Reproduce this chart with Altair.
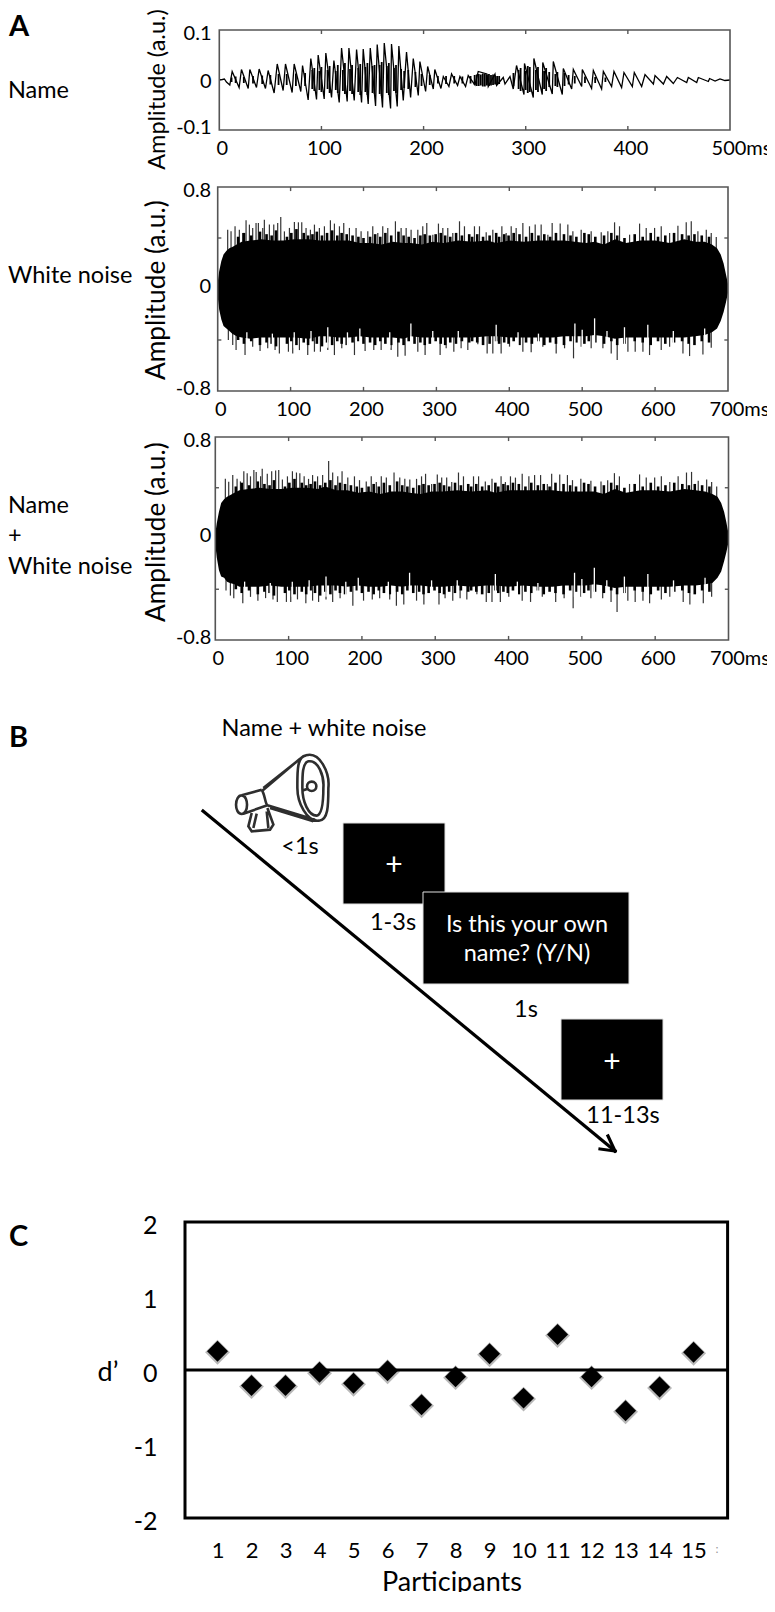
import altair as alt
import pandas as pd

FONT = "Lato"

# ---------- Panel A, "Name" waveform: peaks
name_t = [0,3,5,7,10.3,12.6,19.4,21.7,28.3,29.9,36.4,39,45.2,47.8,53.7,56.7,62.5,64.8,71.3,73.3,79.8,81.5,87,89.6,95.2,96.8,102.7,104.3,109.9,112.2,
117.4,119.7,125.2,126.9,132.1,134.4,139.3,140.9,145.8,147.8,153,154.6,159.8,161.5,167.7,168.6,174.2,175.8,180.1,183.3,187.3,189.9,194.8,196.4,202,204,209.5,
211,217,219.3,224.8,227.4,233.3,235.6,241.1,243.7,250.3,253.5,262,263.3,269.9,271.5,278,279.7,284.6,287.8,291,298.3,298.8,307.4,308,316.2,316.7,326,327,335.8,336.8,
345,346.6,354.8,355.4,364.5,366.2,374.3,376,384.1,386.4,393.9,396.2,404.4,406.3,413.5,416.8,425,426.6,434.8,438,444.5,448.5,457.6,459.2,467.4,469,478.8,480,485.4,490.2,495,500]
name_v = [0,.001,.002,-.004,-.010,.017,-.015,.021,-.017,.021,-.015,.022,-.017,.019,-.026,.032,-.021,.032,-.025,.032,-.023,.029,-.040,.043,-.039,.050,-.038,.054,-.035,.039,
-.045,.064,-.043,.064,-.041,.061,-.045,.062,-.048,.064,-.052,.071,-.055,.074,-.057,.072,-.053,.068,-.041,.056,-.035,.043,-.031,.037,-.023,.027,-.018,
.021,-.017,.007,-.013,.012,-.011,.007,-.013,.009,-.010,.017,.012,-.013,.012,-.011,.005,-.008,.007,-.018,.029,-.029,.033,-.035,.043,-.029,.035,-.028,.037,-.029,.023,
-.018,.021,-.013,.021,-.017,.019,-.018,.017,-.013,.017,-.015,.015,-.013,.015,-.013,.011,-.008,.009,-.008,.007,-.007,.005,-.005,.005,-.005,.005,-.003,.003,-.002,.002,-.001,0]
name_bar_t = [12,16,24,33,42,50,58,66,75,84,
              91,93,98,100,106,108,114,116,121,123,128,130,136,138,143,145,150,152,157,159,164,166,171,173,178,181,185,192,198,206,
              214,222,230,238,246,
              250,252,254,256,258,260,262,264,266,268,270,272,274,
              288,293,295,300,302,304,310,312,318,320,323,329,331,338,342,348,358,368,378]
name_bar_hi = [.005,.007,.006,.008,.009,.010,.012,.012,.013,.014,
               .020,.024,.018,.026,.020,.028,.018,.030,.020,.034,.022,.030,.024,.032,.026,.034,.028,.030,.030,.036,.028,.034,.024,.030,.022,.018,.020,.016,.012,.010,
               .008,.008,.008,.007,.008,
               .010,.011,.012,.011,.013,.012,.011,.012,.010,.011,.009,.008,.008,
               .014,.020,.024,.018,.028,.026,.020,.026,.018,.024,.016,.012,.016,.014,.010,.008,.007,.006,.005]
name_bar_lo = [-.004,-.006,-.006,-.007,-.008,-.009,-.010,-.010,-.012,-.012,
               -.018,-.022,-.020,-.024,-.018,-.026,-.020,-.026,-.022,-.028,-.022,-.028,-.024,-.030,-.024,-.030,-.026,-.028,-.028,-.032,-.026,-.030,-.022,-.026,-.020,-.016,-.018,-.014,-.012,-.010,
               -.007,-.008,-.007,-.007,-.007,
               -.010,-.012,-.012,-.011,-.013,-.013,-.011,-.012,-.011,-.010,-.009,-.008,-.008,
               -.012,-.018,-.022,-.020,-.026,-.024,-.020,-.024,-.018,-.022,-.014,-.012,-.014,-.012,-.009,-.007,-.006,-.006,-.004]

# ---------- Panels A, noise waveforms: envelopes and spikes
core_t = [0,2,5,8,12,16,20,26,33,45,60,75,90,105,125,140,150,165,180,195,210,225,240,255,265,280,295,310,330,350,370,382,400,420,440,460,475,490,505,517,530,545,560,580,600,620,640,655,668,678,685,690,694,697,700]
noise_hi = [.05,.14,.22,.27,.30,.32,.33,.35,.37,.38,.39,.38,.38,.39,.39,.38,.38,.38,.38,.36,.36,.35,.37,.36,.36,.35,.37,.36,.38,.37,.38,.36,.38,.37,.38,.38,.38,.37,.36,.37,.35,.39,.36,.38,.38,.36,.39,.37,.37,.35,.32,.27,.20,.12,.04]
noise_lo = [-.06,-.16,-.24,-.29,-.31,-.33,-.35,-.37,-.38,-.39,-.38,-.38,-.38,-.38,-.39,-.37,-.37,-.38,-.38,-.37,-.38,-.38,-.38,-.39,-.37,-.38,-.38,-.38,-.38,-.38,-.37,-.37,-.38,-.38,-.38,-.38,-.37,-.37,-.37,-.36,-.37,-.39,-.38,-.38,-.38,-.38,-.38,-.37,-.36,-.34,-.31,-.25,-.18,-.11,-.03]
mix_hi = [.04,.12,.21,.28,.31,.33,.34,.36,.38,.39,.40,.39,.39,.40,.40,.39,.41,.38,.38,.36,.37,.35,.37,.37,.36,.35,.37,.37,.38,.37,.38,.36,.38,.38,.38,.38,.37,.37,.37,.37,.35,.39,.36,.38,.38,.37,.39,.38,.37,.35,.33,.28,.21,.13,.04]
mix_lo = [-.05,-.15,-.25,-.30,-.31,-.34,-.35,-.36,-.38,-.38,-.38,-.37,-.38,-.38,-.38,-.37,-.37,-.37,-.38,-.37,-.38,-.38,-.37,-.38,-.37,-.37,-.38,-.38,-.37,-.38,-.37,-.37,-.38,-.37,-.38,-.38,-.37,-.37,-.37,-.36,-.37,-.39,-.38,-.38,-.38,-.38,-.37,-.37,-.36,-.35,-.31,-.26,-.18,-.11,-.03]

top_t = [13.7,18.3,23.8,29.7,34.3,38.9,43.5,48,52.6,55.8,61.8,64,70.9,76.9,82.3,86.5,91.5,98.4,105.2,110.7,115.3,121.2,127.2,132.7,139.5,146.4,154.6,160.1,167,172.9,180.7,189.8,196.7,205.9,212.7,219.6,226.4,233.3,243.8,251.6,258.5,265.3,274.5,281.3,286.8,295.1,302.8,308.8,315.6,322.5,331.7,338.5,352.2,359.1,368.3,377.4,389.8,395.7,402.6,409.4,418.6,427.7,435.5,443.7,452.9,458.8,469.8,480.3,487.2,498.6,512.3,526.1,535.2,544.4,551.2,565,578.7,587.8,599.3,608.4,619.9,631.3,642.7,649.6,658.7,670.2,677,683.9]
noise_top = [.465,.452,.492,.465,.439,.539,.505,.479,.518,.518,.479,.544,.505,.505,.518,.565,.452,.479,.526,.523,.523,.479,.465,.505,.479,.492,.539,.513,.492,.518,.479,.479,.452,.452,.492,.439,.492,.479,.531,.479,.479,.465,.465,.492,.518,.426,.513,.479,.479,.439,.531,.492,.492,.492,.445,.465,.492,.439,.492,.479,.518,.492,.505,.505,.426,.518,.513,.505,.452,.465,.452,.445,.452,.523,.492,.426,.513,.479,.479,.492,.439,.497,.523,.531,.452,.465,.439,.408]
mix_top = [.470,.448,.500,.470,.450,.530,.515,.490,.540,.525,.490,.550,.510,.530,.535,.540,.465,.490,.530,.520,.515,.490,.470,.500,.490,.500,.610,.520,.490,.530,.480,.490,.460,.450,.490,.445,.490,.480,.520,.480,.470,.465,.470,.490,.510,.430,.505,.480,.480,.445,.520,.490,.490,.490,.450,.470,.490,.445,.490,.480,.510,.490,.500,.500,.430,.510,.505,.500,.460,.470,.455,.450,.460,.515,.490,.430,.505,.480,.480,.490,.445,.490,.520,.525,.455,.465,.445,.410]
bot_t = [14.6,20.6,25.2,37.5,48,58.1,68.6,78.7,84.6,97,102.9,112.1,123.5,132.7,140.9,151,160.1,170.2,187.6,202.2,214.1,224.2,237.9,247,257.1,274.5,284.5,305.1,313.4,323.9,333.9,343.1,356.8,369.6,377.4,388.8,400.3,418.6,430,446,464.3,475.8,488.1,498.6,512.3,528.4,539.8,548,562.7,572.7,583.3,592.4,608.4,619.9,638.2,647.3,665.6,677]
noise_bot = [-.40,-.44,-.479,-.518,-.452,-.486,-.465,-.479,-.505,-.492,-.505,-.479,-.518,-.492,-.492,-.479,-.518,-.465,-.518,-.486,-.479,-.479,-.479,-.531,-.523,-.492,-.518,-.518,-.465,-.492,-.465,-.479,-.434,-.505,-.505,-.505,-.452,-.492,-.497,-.452,-.505,-.465,-.544,-.452,-.465,-.465,-.505,-.557,-.492,-.492,-.492,-.518,-.479,-.452,-.505,-.526,-.513,-.46]
mix_bot = [-.41,-.45,-.47,-.51,-.46,-.49,-.47,-.48,-.50,-.50,-.50,-.48,-.51,-.49,-.50,-.48,-.50,-.47,-.53,-.49,-.48,-.47,-.48,-.53,-.52,-.49,-.52,-.52,-.47,-.49,-.47,-.48,-.44,-.50,-.50,-.50,-.46,-.49,-.50,-.46,-.50,-.47,-.55,-.46,-.47,-.47,-.50,-.58,-.49,-.50,-.49,-.51,-.48,-.46,-.50,-.52,-.51,-.46]

# short spikes that roughen the edge of the black body
rough_t = [28,36,46,58,67,74,80,95,101,108,118,124,130,136,143,150,157,164,170,177,185,193,200,209,216,223,230,238,248,255,262,270,278,284,291,299,306,312,319,327,335,345,349,356,364,373,382,386,393,399,406,414,423,431,440,448,456,464,475,484,492,503,509,518,530,540,548,558,572,583,594,604,614,626,637,646,654,664,674]
rough_hi = [.41,.44,.42,.45,.43,.42,.46,.41,.44,.47,.44,.42,.43,.45,.42,.44,.46,.42,.44,.43,.42,.41,.40,.41,.43,.41,.44,.42,.45,.42,.41,.40,.42,.43,.42,.43,.44,.42,.41,.44,.42,.43,.41,.43,.41,.42,.44,.41,.43,.42,.44,.43,.41,.44,.42,.43,.41,.44,.43,.42,.41,.44,.43,.41,.42,.44,.42,.40,.43,.41,.44,.41,.42,.44,.43,.42,.43,.42,.41]
rough_lo = [-.40,-.43,-.41,-.44,-.42,-.43,-.45,-.43,-.41,-.44,-.42,-.44,-.41,-.43,-.45,-.42,-.44,-.41,-.43,-.44,-.42,-.41,-.43,-.42,-.44,-.41,-.43,-.44,-.42,-.44,-.41,-.43,-.42,-.44,-.43,-.41,-.43,-.44,-.42,-.43,-.41,-.42,-.41,-.42,-.44,-.43,-.41,-.43,-.42,-.43,-.41,-.44,-.42,-.43,-.41,-.44,-.42,-.43,-.44,-.41,-.42,-.43,-.41,-.42,-.43,-.41,-.44,-.43,-.41,-.42,-.44,-.41,-.43,-.42,-.41,-.43,-.44,-.41,-.42]
# white gaps that reach into the body from below
notch_t = [40,75,105,128,151,178,195,236,265,295,330,382,412,440,490,500,517,534,558,590,625,668]
notch_v = [-.34,-.35,-.34,-.33,-.30,-.34,-.31,-.34,-.27,-.33,-.33,-.28,-.34,-.35,-.27,-.32,-.23,-.33,-.30,-.28,-.33,-.31]

# ---------- Panel C
participants = list(range(1, 16))
dprime = [.253,-.21,-.21,-.03,-.18,-.01,-.47,-.09,.22,-.38,.48,-.09,-.55,-.23,.24]

# ---------- Panel B schematic
screens = {"x": [343, 561, 423], "x2": [445, 663, 629], "y": [825, 1021, 894], "y2": [906, 1102, 986]}
dark_text = ["Name + white noise", "<1s", "1-3s", "1s", "11-13s"]
dark_x = [324, 300, 393, 526, 623]
dark_y = [731, 849, 925, 1012, 1118]
white_text = ["Is this your own", "name? (Y/N)"]
white_x = [527, 527]
white_y = [927, 956]
plus_x = [394, 612]
plus_y = [868, 1065]
arrow = {"x": [203, 600, 608], "y": [813, 1151, 1138], "x2": [615, 615, 615], "y2": [1153, 1153, 1153]}
MEGAPHONE = ("M73 -113 C115 -125 145 -60 140 -15 C140 35 140 85 110 83 C75 85 47 30 47 -15 C47 -60 45 -110 73 -113 Z "
             "M80 -95 C110 -100 128 -50 125 -15 C125 30 120 65 105 68 C80 68 62 25 62 -15 C62 -55 62 -90 80 -95 Z "
             "M55 -103 L-60 -5 M65 -110 L-55 -15 M100 80 L-43 37 M95 85 L-35 45 "
             "M90 -34 C100 -34 104 -26 104 -20 C104 -12 98 -6 90 -6 C82 -6 76 -12 76 -20 C76 -28 82 -34 90 -34 Z M76 -12 L65 -8 "
             "M-120 7 C-108 7 -104 25 -104 35 C-104 50 -110 63 -120 63 C-132 63 -137 48 -137 35 C-137 20 -130 7 -120 7 Z "
             "M-120 7 L-60 -10 M-115 62 L-43 37 M-60 -10 C-50 5 -50 30 -43 37 "
             "M-90 60 L-100 100 L-90 115 L-35 110 L-25 95 L-43 45 M-75 62 L-85 105 M-45 55 L-40 105")

WIDTH = 546
GRAY = "#555555"


def label(texts, xs, ys, size=23.5, weight="normal", align="left", color="black"):
    """Annotation text outside the plot, placed relative to the panel's origin."""
    return alt.Chart(pd.DataFrame({"text": texts, "px": xs, "py": ys})).mark_text(
        font=FONT, fontSize=size, fontWeight=weight, align=align, baseline="middle", color=color
    ).encode(text="text:N", x=alt.X("px:Q", scale=None), y=alt.Y("py:Q", scale=None))


def frame(xd, yd, xticks, yticks, xs, ys, tx, ty, xa, ya):
    fr = alt.Chart(pd.DataFrame({"a": [xd[0]], "b": [xd[1]], "c": [yd[0]], "d": [yd[1]]})).mark_rect(
        fillOpacity=0, stroke=GRAY, strokeWidth=1.6
    ).encode(x=alt.X("a:Q", scale=xs, axis=xa), x2="b:Q", y=alt.Y("c:Q", scale=ys, axis=ya), y2="d:Q")
    rows = []
    for t in xticks:
        rows += [(t, yd[0], t, yd[0] + ty), (t, yd[1], t, yd[1] - ty)]
    for v in yticks:
        rows += [(xd[0], v, xd[0] + tx, v), (xd[1], v, xd[1] - tx, v)]
    tk = alt.Chart(pd.DataFrame(rows, columns=["a", "c", "b", "d"])).mark_rule(color=GRAY, strokeWidth=1.4).encode(
        x=alt.X("a:Q", scale=xs, axis=xa), x2="b:Q", y=alt.Y("c:Q", scale=ys, axis=ya), y2="d:Q"
    )
    return [fr, tk]


def axes(last, unit_off, yd, ox, title_x, title_y, zero_off, ypad, title_size):
    xa = alt.Axis(values=list(range(0, last + 1, 100)), title=None, domain=False, ticks=False, grid=False,
                  labelFont=FONT, labelFontSize=20, labelColor="black", labelPadding=8, labelOverlap=False,
                  labelFlush=False, labelBound=False,
                  labelExpr=f"datum.value=={last} ? '{last}ms' : ''+datum.value",
                  labelOffset={"condition": {"test": f"datum.value=={last}", "value": unit_off}, "value": 2.5})
    ya = alt.Axis(values=[-yd, 0, yd], title="Amplitude (a.u.)", domain=False, ticks=False, grid=False,
                  offset=-ox, labelFont=FONT, labelFontSize=20, labelColor="black", labelPadding=ypad,
                  labelOverlap=False, labelFlush=False, labelBound=False,
                  labelExpr="datum.value==0 ? '0' : (datum.value<0 ? '-' : '')+abs(datum.value)",
                  labelOffset={"condition": [{"test": "datum.value>0", "value": 3},
                                             {"test": "datum.value<0", "value": -3}], "value": zero_off},
                  titleFont=FONT, titleFontWeight="normal", titleFontSize=title_size, titleColor="black",
                  titleBaseline="alphabetic", titleX=title_x, titleY=title_y)
    return xa, ya


# ----- Panel 1
xs1 = alt.Scale(domain=[0, 500], range=[34.3, 545], nice=False, zero=False)
ys1 = alt.Scale(domain=[-.1, .1], nice=False, zero=False)
xa1, ya1 = axes(500, 11, .1, 34.3, -55, 59, 1, 8.3, 23.5)
line1 = alt.Chart(pd.DataFrame({"t": name_t, "v": name_v})).mark_line(color="black", strokeWidth=1.3).encode(
    x=alt.X("t:Q", scale=xs1, axis=xa1), y=alt.Y("v:Q", scale=ys1, axis=ya1))
bars1 = alt.Chart(pd.DataFrame({"t": name_bar_t, "hi": name_bar_hi, "lo": name_bar_lo})).mark_rule(
    color="black", strokeWidth=1.8).encode(
    x=alt.X("t:Q", scale=xs1, axis=xa1), y=alt.Y("hi:Q", scale=ys1, axis=ya1), y2="lo:Q")
p1 = alt.layer(bars1, line1, *frame((0, 500), (-.1, .1), [100, 200, 300, 400], [], xs1, ys1, 0, .008, xa1, ya1),
               label(["A"], [-176], [-3], size=29, weight="bold"),
               label(["Name"], [-177], [61])
               ).properties(width=WIDTH, height=100)


def noise_panel(hi, lo, top, bot, left, right, h, labels, title_x, title_y, zero_off, ypad):
    xs = alt.Scale(domain=[0, 700], range=[left, right], nice=False, zero=False)
    ys = alt.Scale(domain=[-.8, .8], nice=False, zero=False)
    xa, ya = axes(700, 11, .8, left, title_x, title_y, zero_off, ypad, 26.3)
    core = alt.Chart(pd.DataFrame({"t": core_t, "hi": hi, "lo": lo})).mark_area(color="black").encode(
        x=alt.X("t:Q", scale=xs, axis=xa), y=alt.Y("hi:Q", scale=ys, axis=ya), y2="lo:Q")
    rough = alt.Chart(pd.DataFrame({"t": rough_t, "a": rough_hi, "b": rough_lo})).mark_rule(color="black", strokeWidth=2.6).encode(
        x=alt.X("t:Q", scale=xs, axis=xa), y=alt.Y("a:Q", scale=ys, axis=ya), y2="b:Q")
    up = alt.Chart(pd.DataFrame({"t": top_t, "v": top, "o": [0.0] * len(top_t)})).mark_rule(color="#333333", strokeWidth=1.2).encode(
        x=alt.X("t:Q", scale=xs, axis=xa), y=alt.Y("v:Q", scale=ys, axis=ya), y2="o:Q")
    dn = alt.Chart(pd.DataFrame({"t": bot_t, "v": bot, "o": [0.0] * len(bot_t)})).mark_rule(color="#333333", strokeWidth=1.2).encode(
        x=alt.X("t:Q", scale=xs, axis=xa), y=alt.Y("v:Q", scale=ys, axis=ya), y2="o:Q")
    nt = alt.Chart(pd.DataFrame({"t": notch_t, "v": notch_v, "o": [-.46] * len(notch_t)})).mark_rule(color="white", strokeWidth=1.3).encode(
        x=alt.X("t:Q", scale=xs, axis=xa), y=alt.Y("v:Q", scale=ys, axis=ya), y2="o:Q")
    return alt.layer(up, dn, core, rough, nt,
                     *frame((0, 700), (-.8, .8), [100, 200, 300, 400, 500, 600], [-.4, .4], xs, ys, 5, .032, xa, ya),
                     labels).properties(width=WIDTH, height=h)


p2 = noise_panel(noise_hi, noise_lo, noise_top, noise_bot, 32.7, 543, 204,
                 label(["White noise"], [-177], [89]), -53.4, 102.7, -3, 7)
p3 = noise_panel(mix_hi, mix_lo, mix_top, mix_bot, 30.3, 543.5, 203,
                 label(["Name", "+", "White noise"], [-177, -177, -177], [69, 99, 130]), -51, 94.7, -3, 4.5)

# ----- Panel B
bx = alt.Scale(domain=[185, 731], nice=False, zero=False)
by = alt.Scale(domain=[1224, 642], nice=False, zero=False)
sdf = pd.DataFrame(screens)
shadow_3 = [alt.Chart(sdf.iloc[[i]]).mark_rect(color="#999999", opacity=.55, xOffset=1, yOffset=2).encode(
    x=alt.X("x:Q", scale=bx, axis=None), x2="x2:Q", y=alt.Y("y:Q", scale=by, axis=None), y2="y2:Q") for i in range(3)]
rect_3 = [alt.Chart(sdf.iloc[[i]]).mark_rect(color="black", stroke="#e0e0e0", strokeWidth=1).encode(
    x=alt.X("x:Q", scale=bx, axis=None), x2="x2:Q", y=alt.Y("y:Q", scale=by, axis=None), y2="y2:Q") for i in range(3)]
arrow_ch = alt.Chart(pd.DataFrame(arrow)).mark_rule(color="black", strokeWidth=3.2, strokeCap="square").encode(
    x=alt.X("x:Q", scale=bx, axis=None), x2="x2:Q", y=alt.Y("y:Q", scale=by, axis=None), y2="y2:Q")
meg = alt.Chart(pd.DataFrame({"x": [281.7], "y": [795]})).mark_point(
    shape=MEGAPHONE, size=0.4444, filled=False, opacity=1, color="#2e2e2e", strokeWidth=2.6).encode(
    x=alt.X("x:Q", scale=bx, axis=None), y=alt.Y("y:Q", scale=by, axis=None))
dark = alt.Chart(pd.DataFrame({"t": dark_text, "x": dark_x, "y": dark_y})).mark_text(
    font=FONT, fontSize=23.5, color="black", align="center", baseline="middle").encode(
    text="t:N", x=alt.X("x:Q", scale=bx, axis=None), y=alt.Y("y:Q", scale=by, axis=None))
white = alt.Chart(pd.DataFrame({"t": white_text, "x": white_x, "y": white_y})).mark_text(
    font=FONT, fontSize=23.5, color="white", align="center", baseline="middle").encode(
    text="t:N", x=alt.X("x:Q", scale=bx, axis=None), y=alt.Y("y:Q", scale=by, axis=None))
plus = alt.Chart(pd.DataFrame({"t": ["+", "+"], "x": plus_x, "y": plus_y})).mark_text(
    font=FONT, fontSize=30, color="white", align="center", baseline="middle").encode(
    text="t:N", x=alt.X("x:Q", scale=bx, axis=None), y=alt.Y("y:Q", scale=by, axis=None))
pB = alt.layer(arrow_ch, meg, shadow_3[0], rect_3[0], shadow_3[2], rect_3[2], shadow_3[1], rect_3[1], dark, white, plus,
               label(["B"], [-176], [98], size=29, weight="bold")
               ).properties(width=WIDTH, height=582)

# ----- Panel C
xc = alt.Scale(domain=[0.044, 16], range=[0, 542.6], nice=False, zero=False)
yc = alt.Scale(domain=[-2, 2], nice=False, zero=False)
xca = alt.Axis(values=participants, title="Participants", domain=False, ticks=False, grid=False, labelFont=FONT,
               labelFontSize=22, labelColor="black", labelPadding=22, labelOverlap=False, labelBound=False, labelFlush=False,
               format="d", titleFont=FONT, titleFontSize=27, titleFontWeight="normal", titleColor="black",
               titleBaseline="alphabetic", titleX=266.5, titleY=72)
yca = alt.Axis(values=[-2, -1, 0, 1, 2], title="d’", titleAngle=0, domain=False, ticks=False, grid=False, labelFont=FONT,
               labelFontSize=25, labelColor="black", labelPadding=28, labelOverlap=False, labelBound=False, labelFlush=False,
               labelOffset=3.5,
               labelExpr="(datum.value<0 ? '-' : '')+abs(datum.value)",
               titleFont=FONT, titleFontSize=27, titleFontWeight="normal", titleColor="black", titleX=-77.5, titleY=164)
cdf = pd.DataFrame({"p": participants, "d": dprime})
glow = alt.Chart(cdf).mark_point(shape="diamond", filled=True, color="black", size=620, opacity=.28, yOffset=1).encode(
    x=alt.X("p:Q", scale=xc, axis=xca), y=alt.Y("d:Q", scale=yc, axis=yca))
dia = alt.Chart(cdf).mark_point(shape="diamond", filled=True, color="black", size=440, opacity=1).encode(
    x=alt.X("p:Q", scale=xc, axis=xca), y=alt.Y("d:Q", scale=yc, axis=yca))
boxc = alt.Chart(pd.DataFrame({"a": [0.044], "b": [16], "c": [-2], "d": [2]})).mark_rect(
    fillOpacity=0, stroke="black", strokeWidth=3).encode(
    x=alt.X("a:Q", scale=xc, axis=xca), x2="b:Q", y=alt.Y("c:Q", scale=yc, axis=yca), y2="d:Q")
zero = alt.Chart(pd.DataFrame({"a": [0.044], "b": [16], "c": [0]})).mark_rule(color="black", strokeWidth=3).encode(
    x=alt.X("a:Q", scale=xc, axis=xca), x2="b:Q", y=alt.Y("c:Q", scale=yc, axis=yca))
cut = alt.Chart(pd.DataFrame({"a": [15.69], "c": [-2.42], "t": [":"]})).mark_text(
    font=FONT, fontSize=12, color="#999999").encode(
    x=alt.X("a:Q", scale=xc, axis=xca), y=alt.Y("c:Q", scale=yc, axis=yca), text="t:N")
pC = alt.layer(boxc, zero, glow, dia, cut, label(["C"], [-176], [15], size=29, weight="bold")
               ).properties(width=WIDTH, height=296)


def spacer(h):
    return alt.Chart(pd.DataFrame({"a": [0]})).mark_point(opacity=0).encode(
        x=alt.value(0), y=alt.value(0)).properties(width=WIDTH, height=h)


chart = alt.vconcat(p1, spacer(57), p2, spacer(46), p3, pB, pC, spacing=0, bounds="flush").properties(
    padding={"left": 0, "top": 0, "right": -4, "bottom": -3}, background="white").configure_view(stroke=None)
chart.save("out.html", embed_options={"renderer": "svg", "actions": False})
